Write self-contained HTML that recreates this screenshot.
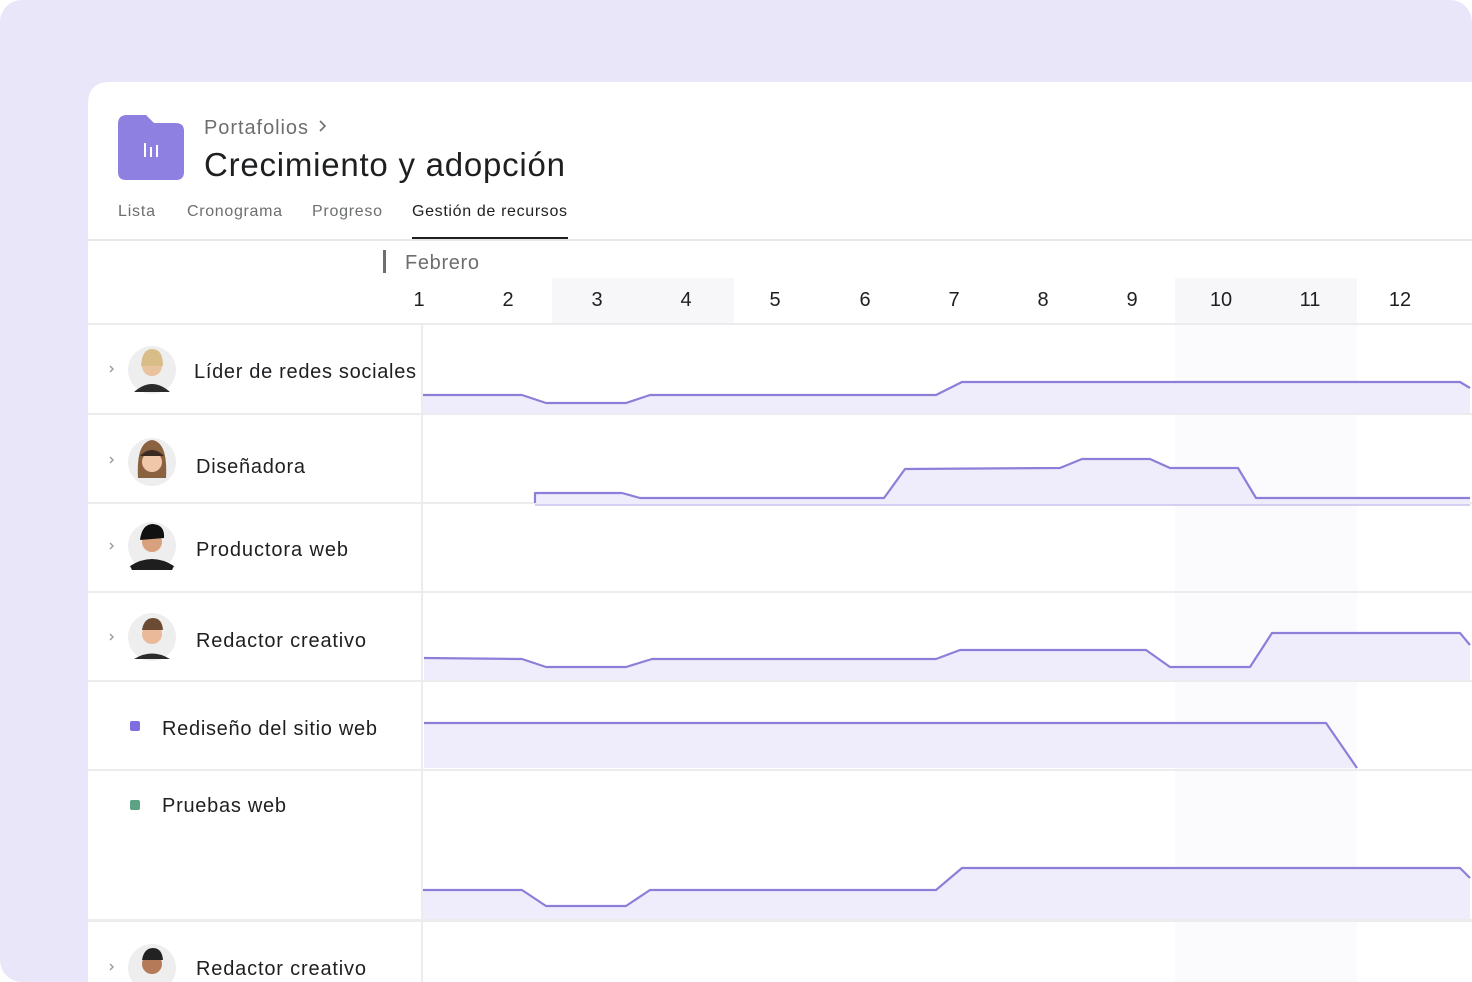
<!DOCTYPE html>
<html><head><meta charset="utf-8"><style>
html,body{margin:0;padding:0;width:1472px;height:982px;overflow:hidden;background:#fff}
svg{display:block}
text{font-family:"Liberation Sans",sans-serif}
</style></head><body>
<svg width="1472" height="982" viewBox="0 0 1472 982" xmlns="http://www.w3.org/2000/svg">
<rect x="0" y="0" width="1472" height="982" rx="22" fill="#e8e6f8"/>
<path d="M88 982 V104 Q88 82 110 82 H1472 V982 Z" fill="#fff"/>
<rect x="552" y="278" width="182" height="46" fill="#f7f7f9"/>
<rect x="1175" y="278" width="182" height="46" fill="#f7f7f9"/>
<rect x="1175" y="324" width="182" height="658" fill="#fbfbfd"/>
<path d="M118 124 Q118 115 127 115 H146 L154 123 H176 Q184 123 184 131 V172 Q184 180 176 180 H126 Q118 180 118 172 Z" fill="#8d80e0"/>
<g stroke="#fff" stroke-width="2"><line x1="145" y1="143" x2="145" y2="157"/><line x1="151" y1="147" x2="151" y2="157"/><line x1="157" y1="145" x2="157" y2="157"/></g>
<text x="204" y="134" font-size="20" fill="#6d6e6f" textLength="104">Portafolios</text>
<path d="M320 121 l5 5 l-5 5" stroke="#6d6e6f" stroke-width="1.6" fill="none"/>
<text x="204" y="176" font-size="33" fill="#1e1f21" textLength="361">Crecimiento y adopción</text>
<text x="118" y="216" font-size="16" fill="#6d6e6f" textLength="37">Lista</text>
<text x="187" y="216" font-size="16" fill="#6d6e6f" textLength="95">Cronograma</text>
<text x="312" y="216" font-size="16" fill="#6d6e6f" textLength="70">Progreso</text>
<text x="412" y="216" font-size="16" fill="#1e1f21" textLength="155">Gestión de recursos</text>
<rect x="412" y="237" width="156" height="3" fill="#1e1f21"/>
<rect x="88" y="239" width="1384" height="2" fill="#e8e8ea"/>
<rect x="383" y="250" width="3" height="23" fill="#6d6e6f"/>
<text x="405" y="269" font-size="20" fill="#6d6e6f" textLength="74">Febrero</text>
<g font-size="20" fill="#1e1f21" text-anchor="middle">
<text x="419" y="306">1</text><text x="508" y="306">2</text><text x="597" y="306">3</text><text x="686" y="306">4</text><text x="775" y="306">5</text><text x="865" y="306">6</text><text x="954" y="306">7</text><text x="1043" y="306">8</text><text x="1132" y="306">9</text><text x="1221" y="306">10</text><text x="1310" y="306">11</text><text x="1400" y="306">12</text>
</g>
<g fill="#ececef">
<rect x="88" y="323" width="1384" height="2"/>
<rect x="88" y="413" width="1384" height="2"/>
<rect x="88" y="502" width="1384" height="2"/>
<rect x="88" y="591" width="1384" height="2"/>
<rect x="88" y="680" width="1384" height="2"/>
<rect x="88" y="769" width="1384" height="2"/>
<rect x="88" y="919" width="1384" height="3"/>
<rect x="421" y="324" width="2" height="658"/>
</g>
<g fill="#efedfb" stroke="none">
<path d="M423 395 L522 395 L546 403 L626 403 L650 395 L936 395 L962 382 L1460 382 L1470 388 L1470 413 L423 413 Z"/>
<path d="M535 505 L535 493 L622 493 L640 498 L884 498 L905 469 L1060 468 L1082 459 L1150 459 L1170 468 L1238 468 L1256 498 L1470 498 L1470 505 Z"/>
<path d="M424 658 L522 659 L546 667 L626 667 L652 659 L936 659 L960 650 L1146 650 L1170 667 L1250 667 L1272 633 L1460 633 L1470 645 L1470 680 L424 680 Z"/>
<path d="M424 723 L1326 723 L1357 768 L424 768 Z"/>
<path d="M423 890 L522 890 L546 906 L626 906 L650 890 L936 890 L962 868 L1460 868 L1470 878 L1470 919 L423 919 Z"/>
</g>
<g fill="none" stroke="#8b7fd9" stroke-width="2.2" stroke-linejoin="round">
<path d="M423 395 L522 395 L546 403 L626 403 L650 395 L936 395 L962 382 L1460 382 L1470 388"/>
<path d="M535 503 L535 493 L622 493 L640 498 L884 498 L905 469 L1060 468 L1082 459 L1150 459 L1170 468 L1238 468 L1256 498 L1470 498"/>
<path d="M424 658 L522 659 L546 667 L626 667 L652 659 L936 659 L960 650 L1146 650 L1170 667 L1250 667 L1272 633 L1460 633 L1470 645"/>
<path d="M424 723 L1326 723 L1357 768"/>
<path d="M423 890 L522 890 L546 906 L626 906 L650 890 L936 890 L962 868 L1460 868 L1470 878"/>
</g>
<line x1="535" y1="505" x2="1470" y2="505" stroke="#c9c3ee" stroke-width="1.5"/>
<g stroke="#9a9a9e" stroke-width="1.4" fill="none">
<path d="M110 366 l3 3 l-3 3"/><path d="M110 457 l3 3 l-3 3"/><path d="M110 543 l3 3 l-3 3"/><path d="M110 634 l3 3 l-3 3"/><path d="M110 964 l3 3 l-3 3"/>
</g>
<g>
<circle cx="152" cy="370" r="24" fill="#eeeeee"/><circle cx="152" cy="366" r="10" fill="#e8c39e"/><path d="M134 392 Q152 376 170 392" fill="#2b2b2b"/><path d="M141 366 Q142 349 152 349 Q163 349 163 366" fill="#d9bd88"/>
<circle cx="152" cy="462" r="24" fill="#eeeeee"/><path d="M138 478 Q136 442 152 440 Q168 442 166 478 Z" fill="#8a6240"/><circle cx="152" cy="462" r="10" fill="#f0c7a8"/><path d="M140 456 Q152 444 164 456 Z" fill="#3a2a22"/>
<circle cx="152" cy="546" r="24" fill="#eeeeee"/><path d="M130 566 Q152 552 174 566 L172 570 L132 570 Z" fill="#1e1e1e"/><circle cx="152" cy="542" r="10" fill="#d9a07e"/><path d="M140 540 Q142 524 153 524 Q165 525 164 538 Z" fill="#111"/>
<circle cx="152" cy="637" r="24" fill="#eeeeee"/><path d="M134 659 Q152 648 170 659" fill="#2b2b2b"/><circle cx="152" cy="634" r="10" fill="#e9b99a"/><path d="M142 630 Q144 618 153 618 Q162 618 163 630" fill="#6b4b33"/>
<circle cx="152" cy="968" r="24" fill="#eeeeee"/><circle cx="152" cy="964" r="10" fill="#b57a57"/><path d="M142 960 Q144 948 153 948 Q162 948 163 960" fill="#222"/>
</g>
<g font-size="20" fill="#1e1f21">
<text x="194" y="378" textLength="222">Líder de redes sociales</text>
<text x="196" y="473" textLength="109">Diseñadora</text>
<text x="196" y="556" textLength="152">Productora web</text>
<text x="196" y="647" textLength="170">Redactor creativo</text>
<text x="162" y="735" textLength="215">Rediseño del sitio web</text>
<text x="162" y="812" textLength="124">Pruebas web</text>
<text x="196" y="975" textLength="170">Redactor creativo</text>
</g>
<rect x="130" y="721" width="10" height="10" rx="2" fill="#7f6ee0"/>
<rect x="130" y="800" width="10" height="10" rx="2" fill="#5da283"/>
</svg>
</body></html>
